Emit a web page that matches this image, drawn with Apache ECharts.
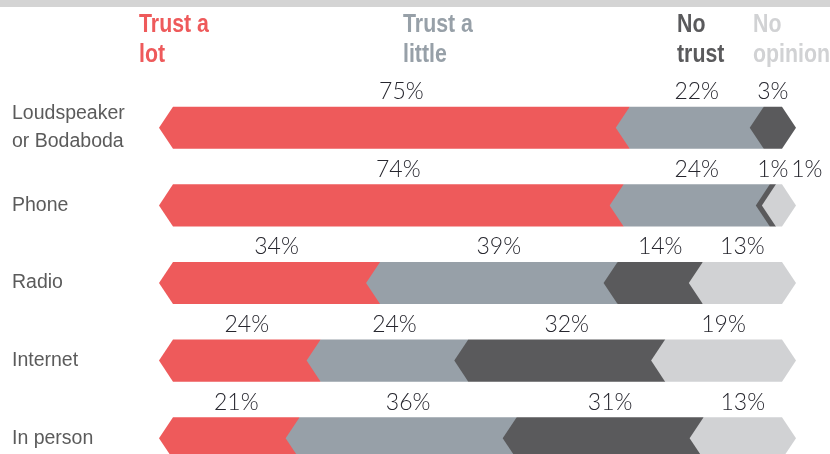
<!DOCTYPE html>
<html>
<head>
<meta charset="utf-8">
<script src="https://cdn.jsdelivr.net/npm/echarts@6/dist/echarts.min.js"></script>
<style>
  html, body { margin: 0; padding: 0; background: #fff; }
  #chart { width: 830px; height: 454px; }
</style>
</head>
<body>
<div id="chart"></div>
<script>
// categories top to bottom
var categories = ["Loudspeaker\nor Bodaboda", "Phone", "Radio", "Internet", "In person"];
// percentages per answer
var trustALot = [75, 74, 34, 24, 21];
var trustALittle = [22, 24, 39, 24, 36];
var noTrust = [3, 1, 14, 32, 31];
var noOpinion = [0, 1, 13, 19, 13];
var seriesNames = ["Trust a\nlot", "Trust a\nlittle", "No\ntrust", "No\nopinion"];

var allSeries = [trustALot, trustALittle, noTrust, noOpinion];
var colors = ["#ee5a5b", "#97a0a8", "#5a5a5c", "#d1d2d4"];
var tip = 14;

function rowTotal(i) {
  var t = 0;
  for (var s = 0; s < allSeries.length; s++) t += allSeries[s][i];
  return t;
}

// segment start/end in percent of the row (each row fills the full width)
function segRange(s, i) {
  var total = rowTotal(i);
  var start = 0;
  for (var k = 0; k < s; k++) start += allSeries[k][i];
  return [start / total * 100, (start + allSeries[s][i]) / total * 100];
}

function labelWidth(txt) {
  return txt.length * 14 + 4;
}

// label centre x for each segment of a row, pushed right if they collide
function labelXs(i, api) {
  var xs = [];
  var prevRight = -1e9;
  for (var s = 0; s < allSeries.length; s++) {
    var v = allSeries[s][i];
    if (!v) { xs.push(null); continue; }
    var r = segRange(s, i);
    var a = api.coord([r[0], i])[0];
    var b = api.coord([r[1], i])[0];
    var txt = v + "%";
    var w = labelWidth(txt);
    var cx = (a + b) / 2;
    if (cx - w / 2 < prevRight + 2) cx = prevRight + 2 + w / 2;
    prevRight = cx + w / 2;
    xs.push(cx);
  }
  return xs;
}

function makeRender(s) {
  return function (params, api) {
    var i = api.value(1);
    var v = allSeries[s][i];
    if (!v) return null;
    var r = segRange(s, i);
    var p0 = api.coord([r[0], i]);
    var p1 = api.coord([r[1], i]);
    var h = api.size([0, 1])[1] * 0.542;
    var top = p0[1] - h / 2;
    var bot = p0[1] + h / 2;
    var last = true;
    for (var k = s + 1; k < allSeries.length; k++) {
      if (allSeries[k][i]) last = false;
    }
    var pts = [[p0[0] - tip, p0[1]], [p0[0], top], [p1[0], top]];
    if (last) pts.push([p1[0] + tip, p0[1]]);
    pts.push([p1[0], bot], [p0[0], bot]);
    var lx = labelXs(i, api)[s];
    return {
      type: "group",
      children: [
        {
          type: "polygon",
          shape: { points: pts },
          style: { fill: colors[s] }
        },
        {
          type: "text",
          style: {
            text: v + "%",
            x: lx,
            y: top - 15,
            align: "center",
            verticalAlign: "middle",
            fill: "#26262e",
            font: "300 23px Lato"
          }
        }
      ]
    };
  };
}

var series = [];
for (var s = 0; s < allSeries.length; s++) {
  var d = [];
  for (var i = 0; i < categories.length; i++) d.push([allSeries[s][i], i]);
  series.push({
    type: "custom",
    name: seriesNames[s],
    renderItem: makeRender(s),
    encode: { x: 0, y: 1 },
    data: d,
    silent: true
  });
}

var legendX = [139, 403, 677, 753];
var graphics = [
  { type: "rect", shape: { x: 0, y: 0, width: 830, height: 7 }, style: { fill: "#d4d4d4" } }
];
for (var g = 0; g < seriesNames.length; g++) {
  graphics.push({
    type: "text",
    x: legendX[g],
    y: 10,
    scaleX: 0.82,
    style: {
      text: seriesNames[g],
      fill: colors[g],
      font: "bold 26px 'Liberation Sans'",
      lineHeight: 30
    }
  });
}

var chart = echarts.init(document.getElementById("chart"));
chart.setOption({
  animation: false,
  grid: { left: 173, width: 609, top: 89, height: 388, outerBoundsMode: "none", containLabel: false },
  xAxis: {
    type: "value",
    min: 0,
    max: 100,
    show: false
  },
  yAxis: {
    type: "category",
    inverse: true,
    data: categories,
    axisLine: { show: false },
    axisTick: { show: false },
    axisLabel: {
      align: "left",
      margin: 161,
      fontFamily: "Liberation Sans",
      fontSize: 19.5,
      lineHeight: 28,
      color: "#5b5b5b",
      padding: [0, 0, 6, 0]
    }
  },
  graphic: graphics,
  series: series
});
</script>
</body>
</html>
